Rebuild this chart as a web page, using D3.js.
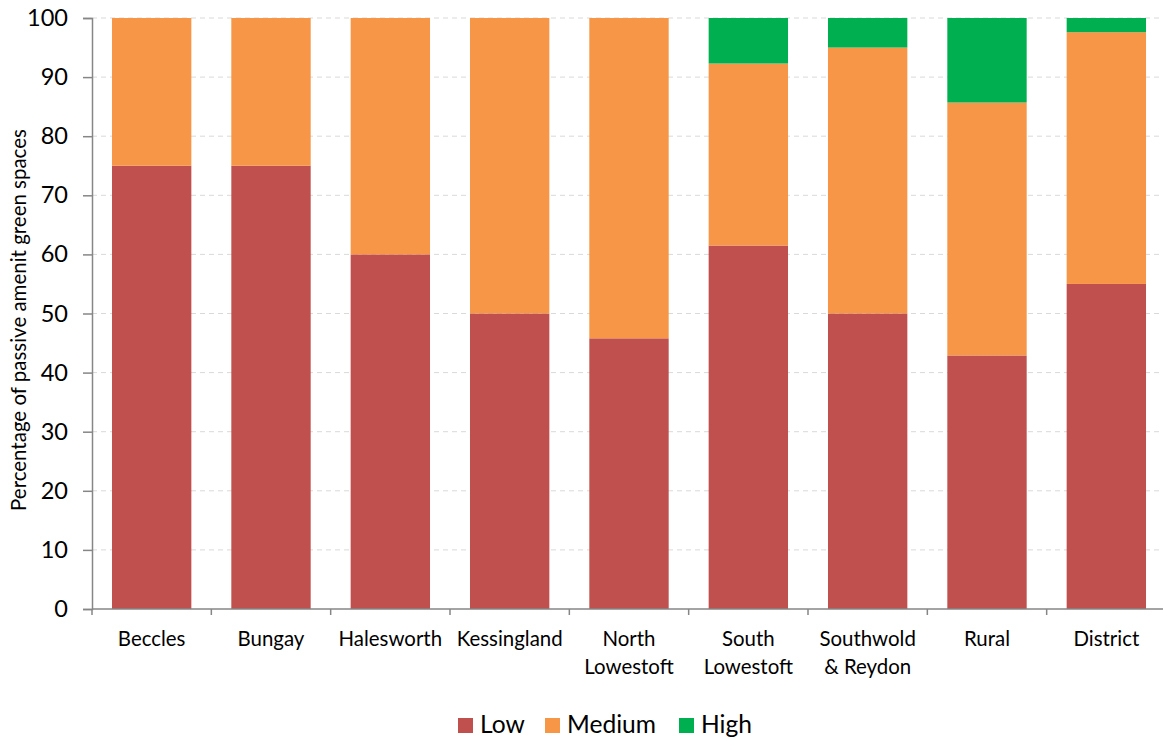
<!DOCTYPE html>
<html><head><meta charset="utf-8">
<script src="https://cdn.jsdelivr.net/npm/d3@7"></script>
<style>body{margin:0;background:#fff}svg{display:block}text{font-family:Lato,"Open Sans",sans-serif}</style>
</head><body><svg id="c" width="1163" height="739"></svg>
<script>
const categories = ["Beccles","Bungay","Halesworth","Kessingland","North\nLowestoft","South\nLowestoft","Southwold\n& Reydon","Rural","District"];
const lowValues = [75, 75, 60, 50, 45.8, 61.5, 50, 42.9, 55.0];
const mediumValues = [25, 25, 40, 50, 54.2, 30.8, 45, 42.8, 42.6];
const highValues = [0, 0, 0, 0, 0, 7.7, 5, 14.3, 2.4];
const seriesNames = ["Low","Medium","High"];
const colors = ["#C0504D","#F79646","#00B050"];
const yTicks = [0,10,20,30,40,50,60,70,80,90,100];

const svg = d3.select("#c");
const m = {l:92, r:1166, t:18, b:609};
const x = d3.scaleBand().domain(categories).range([m.l, m.r]).paddingInner(0.335).paddingOuter(0.1675);
const y = d3.scaleLinear().domain([0,100]).range([m.b, m.t]);

// fit font size so a sample string reaches a target width
function fitSize(sample, target, base) {
  const t = svg.append("text").attr("font-size", base+"px").text(sample);
  const w = t.node().getComputedTextLength();
  t.remove();
  return base * target / w;
}
const fsTick = fitSize("100", 41, 20);
const fsX = fitSize("Kessingland", 106, 20);
const fsLeg = fitSize("Medium", 89, 20);
const fsTitle = fitSize("Percentage of passive amenit green spaces", 382, 16);

// grid
svg.append("g").selectAll("line").data(yTicks.filter(d=>d>0)).join("line")
  .attr("x1", m.l).attr("x2", m.r).attr("y1", d=>y(d)).attr("y2", d=>y(d))
  .attr("stroke", "#d9d9d9").attr("stroke-width", 1).attr("stroke-dasharray", "5,4");

const rows = categories.map((c,i)=>({cat:c, Low:lowValues[i], Medium:mediumValues[i], High:highValues[i]}));
const stack = d3.stack().keys(seriesNames)(rows);
svg.append("g").selectAll("g").data(stack).join("g").attr("fill", (d,i)=>colors[i])
  .selectAll("rect").data(d=>d).join("rect")
  .attr("x", d=>x(d.data.cat)).attr("width", x.bandwidth())
  .attr("y", d=>y(d[1])).attr("height", d=>y(d[0])-y(d[1]));

// y axis
const ya = svg.append("g").attr("transform", `translate(${m.l},0)`)
  .call(d3.axisLeft(y).tickValues(yTicks).tickSize(9).tickPadding(15));
ya.select(".domain").attr("stroke","#868686").attr("stroke-width",1.5);
ya.selectAll(".tick line").attr("stroke","#868686").attr("stroke-width",1.5);
ya.selectAll(".tick text").attr("font-size", fsTick+"px").attr("fill","#000").style("font-family","Lato,sans-serif");

// x axis
const step = x.step();
svg.append("line").attr("x1", m.l).attr("x2", m.r).attr("y1", m.b).attr("y2", m.b).attr("stroke","#868686").attr("stroke-width",1.5);
svg.append("g").selectAll("line").data(d3.range(categories.length+1)).join("line")
  .attr("x1", i=>m.l+i*step).attr("x2", i=>m.l+i*step).attr("y1", m.b).attr("y2", m.b+6)
  .attr("stroke","#868686").attr("stroke-width",1.5);
const xl = svg.append("g").selectAll("text").data(categories).join("text")
  .attr("x", d=>x(d)+x.bandwidth()/2).attr("y", 646)
  .attr("text-anchor","middle").attr("font-size", fsX+"px").attr("fill","#000");
xl.each(function(d){
  const t = d3.select(this);
  d.split("\n").forEach((s,k)=>t.append("tspan").attr("x", x(d)+x.bandwidth()/2).attr("dy", k===0?0:28).text(s));
});

// y title
svg.append("text").attr("transform","translate(26,320) rotate(-90)").attr("text-anchor","middle")
  .attr("font-size", fsTitle+"px").attr("fill","#000").text("Percentage of passive amenit green spaces");

// legend
const legX = [458, 545, 679];
const lg = svg.append("g").selectAll("g").data(seriesNames).join("g")
  .attr("transform",(d,i)=>`translate(${legX[i]},718)`);
lg.append("rect").attr("width",15).attr("height",15).attr("fill",(d,i)=>colors[i]);
lg.append("text").attr("x",22).attr("y",15).attr("font-size", fsLeg+"px").attr("fill","#000").text(d=>d);
</script></body></html>
